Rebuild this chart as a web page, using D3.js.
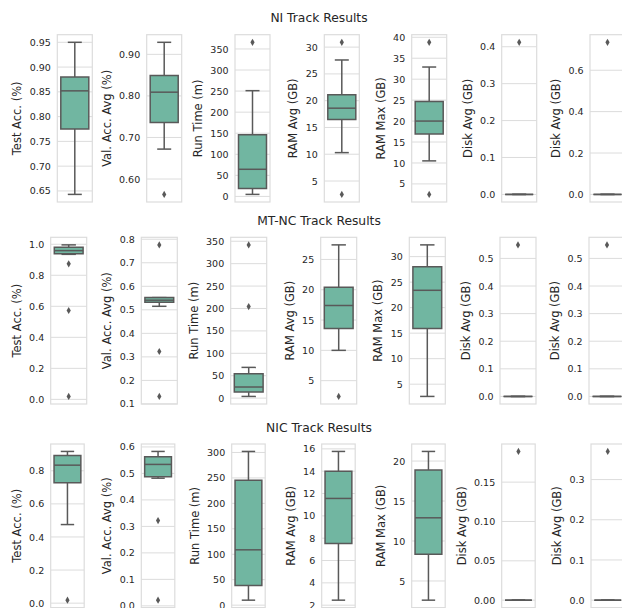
<!DOCTYPE html>
<html>
<head>
<meta charset="utf-8">
<script src="https://cdn.jsdelivr.net/npm/d3@7"></script>
<style>
  body { margin: 0; background: #fff; }
  svg { display: block; font-family: "DejaVu Sans", sans-serif; }
</style>
</head>
<body>
<script>
// chart values
const tracks = ["NI Track Results", "MT-NC Track Results", "NIC Track Results"];
const metrics = ["Test Acc. (%)", "Val. Acc. Avg (%)", "Run Time (m)", "RAM Avg (GB)", "RAM Max (GB)", "Disk Avg (GB)", "Disk Avg (GB)"];

// [whisker low, q1, median, q3, whisker high]
const niBoxes = [[0.643, 0.775, 0.852, 0.880, 0.950], [0.672, 0.736, 0.809, 0.849, 0.929], [4.8, 19, 64.4, 146.6, 251],
                 [10.3, 16.5, 18.6, 21.1, 27.6], [10.5, 16.9, 20.0, 24.7, 32.9], [0, 0, 0, 0, 0], [0, 0, 0, 0, 0]];
const niOutliers = [[], [0.563], [365.8], [2.5, 30.9], [2.5, 38.8], [0.412], [0.735]];
const niTicks = [[0.65, 0.70, 0.75, 0.80, 0.85, 0.90, 0.95], [0.6, 0.7, 0.8, 0.9], [0, 50, 100, 150, 200, 250, 300, 350],
                 [5, 10, 15, 20, 25, 30], [5, 10, 15, 20, 25, 30, 35, 40], [0, 0.1, 0.2, 0.3, 0.4], [0, 0.2, 0.4, 0.6]];

const mtncBoxes = [[0.935, 0.938, 0.959, 0.981, 0.996], [0.515, 0.532, 0.541, 0.552, 0.552], [3.8, 13.5, 24.8, 54.2, 68.6],
                   [10.0, 13.6, 17.4, 20.4, 27.4], [2.6, 15.9, 23.4, 28.0, 32.3], [0, 0, 0, 0, 0], [0, 0, 0, 0, 0]];
const mtncOutliers = [[0.874, 0.573, 0.019], [0.776, 0.323, 0.132], [341.9, 204.2], [2.4], [], [0.549], [0.549]];
const mtncTicks = [[0, 0.2, 0.4, 0.6, 0.8, 1.0], [0.1, 0.2, 0.3, 0.4, 0.5, 0.6, 0.7, 0.8], [0, 50, 100, 150, 200, 250, 300, 350],
                   [5, 10, 15, 20, 25], [5, 10, 15, 20, 25, 30], [0, 0.1, 0.2, 0.3, 0.4, 0.5], [0, 0.1, 0.2, 0.3, 0.4, 0.5]];

const nicBoxes = [[0.475, 0.727, 0.834, 0.892, 0.917], [0.482, 0.487, 0.534, 0.563, 0.583], [9.8, 38.7, 108.7, 245.6, 302],
                  [2.45, 7.53, 11.56, 14.0, 15.77], [2.6, 8.35, 12.9, 18.87, 21.2], [0, 0, 0, 0, 0], [0, 0, 0, 0, 0]];
const nicOutliers = [[0.018], [0.322, 0.0215], [], [], [], [0.189], [0.37]];
const nicTicks = [[0, 0.2, 0.4, 0.6, 0.8], [0, 0.1, 0.2, 0.3, 0.4, 0.5, 0.6], [0, 50, 100, 150, 200, 250, 300],
                  [2, 4, 6, 8, 10, 12, 14, 16], [5, 10, 15, 20], [0, 0.05, 0.10, 0.15], [0, 0.1, 0.2, 0.3]];

const W = 622, H = 608;
const boxColor = "#71b6a1", lineColor = "#595959", gridColor = "#dcdcdc", textColor = "#262626";

// layout of each row of panels
const rows = [
  {top: 34.7, bottom: 202, width: 35, lefts: [57.3, 146.7, 235, 324.3, 411.7, 501.7, 590],
   boxes: niBoxes, outliers: niOutliers, ticks: niTicks},
  {top: 237.3, bottom: 404, width: 36, lefts: [50.7, 141.3, 230.7, 320.7, 409.3, 500, 589],
   boxes: mtncBoxes, outliers: mtncOutliers, ticks: mtncTicks},
  {top: 444, bottom: 607.6, width: 33.5, lefts: [50.7, 141.3, 231.7, 321.7, 411.7, 501.7, 591],
   boxes: nicBoxes, outliers: nicOutliers, ticks: nicTicks}
];

const svg = d3.select("body").append("svg").attr("width", W).attr("height", H);

let drawPanel = (g, row, i) => {
  const stats = row.boxes[i], outs = row.outliers[i], ticks = row.ticks[i];
  const left = row.lefts[i], w = row.width;
  const all = stats.concat(outs);
  const lo = d3.min(all), hi = d3.max(all), m = (hi - lo) * 0.05;

  const y = d3.scaleLinear().domain([lo - m, hi + m]).range([row.bottom, row.top]);
  const x = d3.scaleLinear().domain([-0.5, 0.5]).range([left, left + w]);

  // grid
  g.selectAll(".grid").data(ticks).enter().append("line")
    .attr("x1", left).attr("x2", left + w)
    .attr("y1", d => y(d)).attr("y2", d => y(d))
    .attr("stroke", gridColor).attr("stroke-width", 1);

  // frame
  g.append("rect").attr("x", left).attr("y", row.top)
    .attr("width", w).attr("height", row.bottom - row.top)
    .attr("fill", "none").attr("stroke", gridColor).attr("stroke-width", 1.2);

  // y axis
  const step = ticks[1] - ticks[0];
  const axis = d3.axisLeft(y).tickValues(ticks).tickSize(0).tickPadding(6.5)
    .tickFormat(d3.format("." + d3.precisionFixed(step) + "f"));
  const ax = g.append("g").attr("transform", "translate(" + left + ",0)").call(axis);
  ax.select(".domain").remove();
  ax.selectAll("text").attr("fill", textColor).style("font-size", "9.5px").style("font-family", "DejaVu Sans");

  let maxW = 0;
  ax.selectAll("text").each(function() { maxW = Math.max(maxW, this.getBBox().width); });

  // y label
  const lx = left - 6.5 - maxW - 8.3;
  g.append("text")
    .attr("transform", "translate(" + lx + "," + ((row.top + row.bottom) / 2) + ") rotate(-90)")
    .attr("text-anchor", "middle").attr("fill", textColor)
    .style("font-size", "11.5px").text(metrics[i]);

  // box
  const [wl, q1, med, q3, wh] = stats;
  const line = (x1, y1, x2, y2) => g.append("line")
    .attr("x1", x1).attr("x2", x2).attr("y1", y1).attr("y2", y2)
    .attr("stroke", lineColor).attr("stroke-width", 1.5);

  line(x(0), y(q3), x(0), y(wh));
  line(x(0), y(q1), x(0), y(wl));
  line(x(-0.2), y(wh), x(0.2), y(wh));
  line(x(-0.2), y(wl), x(0.2), y(wl));

  g.append("path")
    .attr("d", "M" + x(-0.4) + "," + y(q1) + "H" + x(0.4) + "V" + y(q3) + "H" + x(-0.4) + "Z")
    .attr("fill", boxColor).attr("stroke", lineColor).attr("stroke-width", 1.5);
  line(x(-0.4), y(med), x(0.4), y(med));

  // outliers, thin diamonds
  g.selectAll(".out").data(outs).enter().append("path")
    .attr("d", d => "M" + x(0) + "," + (y(d) - 3.6) + "l2.1,3.6l-2.1,3.6l-2.1,-3.6Z")
    .attr("fill", lineColor);
};

rows.forEach((row, r) => {
  const g = svg.append("g");
  g.append("text").attr("x", 319).attr("y", row.top - 12.5)
    .attr("text-anchor", "middle").attr("fill", textColor)
    .style("font-size", "12.3px").text(tracks[r]);
  metrics.forEach((mName, i) => drawPanel(g.append("g"), row, i));
});
</script>
</body>
</html>
